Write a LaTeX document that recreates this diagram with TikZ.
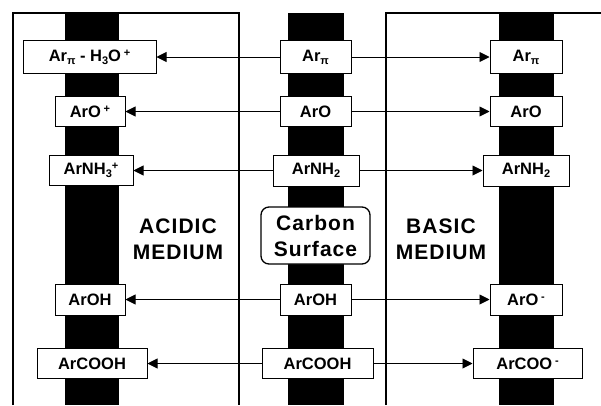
\documentclass[tikz,border=0pt]{standalone}
\usepackage{fontspec}
\setmainfont{Liberation Sans}
\usetikzlibrary{arrows.meta}
\newcommand{\mysb}[1]{\raisebox{-0.35ex}{\fontsize{11}{11}\selectfont #1}}
\newcommand{\mysp}[1]{\raisebox{0.55ex}{\fontsize{11}{11}\selectfont #1}}
\begin{document}
\begin{tikzpicture}[x=1pt,y=-1pt,
  lab/.style={draw=black,line width=1pt,fill=white,inner sep=0pt,
    font=\fontsize{16.5}{18}\selectfont\bfseries},
  bar/.style={fill=black,draw=none},
  frame/.style={line width=2pt},
  conn/.style={line width=0.9pt,-{Triangle[length=10pt,width=10pt]}},
  med/.style={font=\fontsize{21}{26}\selectfont\bfseries\addfontfeature{LetterSpace=5},align=center,inner sep=0pt}]
\useasboundingbox (0,0) rectangle (601,405);
% bars
\fill[bar] (65,13) rectangle (119,405);
\fill[bar] (288,13) rectangle (344,405);
\fill[bar] (499,13) rectangle (554,405);
% frames
\draw[frame] (13,405) -- (13,13) -- (239,13) -- (239,405);
\draw[frame] (386,405) -- (386,13) -- (601,13);
% row 1
\node[lab,minimum width=133pt,minimum height=33pt] (L1) at (89.5,57) {Ar\mysb{π} - H\mysb{3}O\,\mysp{+}};
\node[lab,minimum width=71pt,minimum height=33pt] (C1) at (315.5,57) {Ar\mysb{π}};
\node[lab,minimum width=72pt,minimum height=33pt] (R1) at (526,57) {Ar\mysb{π}};
% row 2
\node[lab,minimum width=70pt,minimum height=30pt] (L2) at (90,111.5) {ArO\,\mysp{+}};
\node[lab,minimum width=71pt,minimum height=30pt] (C2) at (315.5,111.5) {ArO};
\node[lab,minimum width=72pt,minimum height=30pt] (R2) at (526,111.5) {ArO};
% row 3
\node[lab,minimum width=84pt,minimum height=30pt] (L3) at (91,170.5) {ArNH\mysb{3}\mysp{+}};
\node[lab,minimum width=86pt,minimum height=31pt] (C3) at (316,170.5) {ArNH\mysb{2}};
\node[lab,minimum width=86pt,minimum height=31pt] (R3) at (526,170.5) {ArNH\mysb{2}};
% row 4
\node[lab,minimum width=70pt,minimum height=31pt] (L4) at (90,299.5) {ArOH};
\node[lab,minimum width=71pt,minimum height=31pt] (C4) at (315.5,299.5) {ArOH};
\node[lab,minimum width=72pt,minimum height=31pt] (R4) at (526,299.5) {ArO\,\mysp{-}};
% row 5
\node[lab,minimum width=110pt,minimum height=30pt] (L5) at (92,363.5) {ArCOOH};
\node[lab,minimum width=111pt,minimum height=30pt] (C5) at (317.5,363.5) {ArCOOH};
\node[lab,minimum width=109pt,minimum height=30pt] (R5) at (527.5,363.5) {ArCOO\,\mysp{-}};
% medium labels
\node[med] (acid) at (178,239) {ACIDIC\\MEDIUM};
\node[med] (basic) at (441,239) {BASIC\\MEDIUM};
\node[draw=black,line width=1.3pt,fill=white,rounded corners=8pt,
  minimum width=109pt,minimum height=57pt,med] (cs) at (315.5,235.5) {Carbon\\Surface};
% connectors
\foreach \i in {1,...,5}{
  \draw[conn] (C\i.west) -- (L\i.east);
  \draw[conn] (C\i.east) -- (R\i.west);
}
\end{tikzpicture}
\end{document}
